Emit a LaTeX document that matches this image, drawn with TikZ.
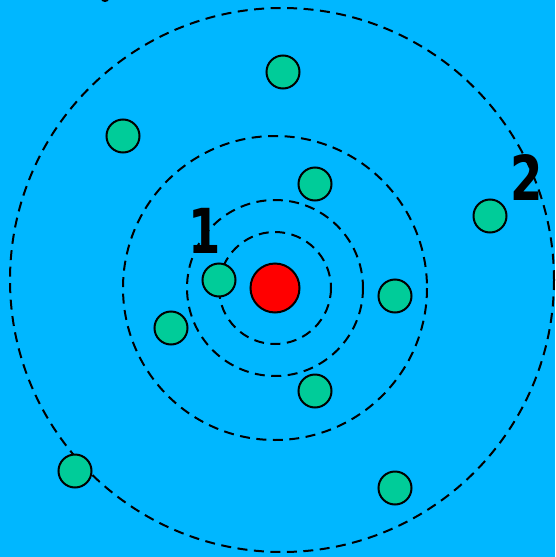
\documentclass[tikz,border=0pt]{standalone}
\usepackage{fontspec}
\newfontfamily\labelfont{DejaVu Sans}
\definecolor{bgblue}{RGB}{0,183,255}
\definecolor{dotgreen}{RGB}{0,204,153}
\begin{document}
\begin{tikzpicture}[x=1pt,y=-1pt,
  orbit/.style={draw=black,line width=2pt,dash pattern=on 10pt off 6.5pt},
  electron/.style={circle,draw=black,line width=2pt,fill=dotgreen,minimum size=33pt,inner sep=0pt},
  nucleus/.style={circle,draw=black,line width=2pt,fill=red,minimum size=49pt,inner sep=0pt},
  lbl/.style={font=\labelfont\bfseries\fontsize{62}{62}\selectfont,text=black,inner sep=0pt}]
\fill[bgblue] (0,0) rectangle (555,557);
\useasboundingbox (0,0) rectangle (555,557);
\begin{scope}
\clip (0,0) rectangle (555,557);
\fill[black] (105,-1) ellipse (4pt and 3pt);
\end{scope}
\draw[orbit] (282,280) circle (272);
\draw[orbit] (275,288) circle (152);
\draw[orbit] (275,288) circle (88);
\draw[orbit] (275,288) circle (56);
\node[nucleus] (n) at (275,288) {};
\node[electron] (e1) at (283,72) {};
\node[electron] (e2) at (123,136) {};
\node[electron] (e3) at (315,184) {};
\node[electron] (e4) at (490,216) {};
\node[electron] (e5) at (219,280) {};
\node[electron] (e6) at (171,328) {};
\node[electron] (e7) at (395,296) {};
\node[electron] (e8) at (315,391) {};
\node[electron] (e9) at (75,471) {};
\node[electron] (e10) at (395,488) {};
\node[lbl,xscale=0.75] (l1) at (205,231) {1};
\node[lbl,xscale=0.75] (l2) at (527,177) {2};
\end{tikzpicture}
\end{document}
